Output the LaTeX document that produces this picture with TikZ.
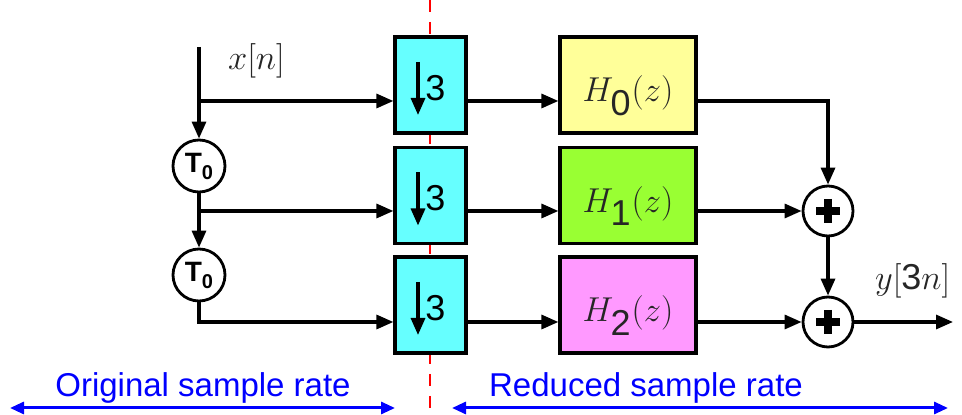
\documentclass[tikz,border=0pt]{standalone}
\usepackage{fontspec}
\setmainfont{Liberation Sans}
\usetikzlibrary{arrows.meta}

\definecolor{decfill}{HTML}{66FFFF}
\definecolor{hzero}{HTML}{FFFF99}
\definecolor{hone}{HTML}{99FF33}
\definecolor{htwo}{HTML}{FF99FF}
\definecolor{rateblue}{HTML}{0000FF}

\tikzset{
    wire/.style={line width=1.6pt},
    sig/.style={wire, -{Triangle[length=8.5pt,width=7pt]}},
    decbox/.style={draw, line width=1.6pt, fill=decfill, minimum width=35.5pt, minimum height=48pt, inner sep=0pt},
    filt/.style={draw, line width=1.6pt, minimum width=68pt, minimum height=48pt, inner sep=0pt},
    delay/.style={draw, circle, line width=1.4pt, fill=white, minimum size=26pt, inner sep=0pt, font=\fontsize{14}{16}\selectfont\bfseries},
    adder/.style={draw, circle, line width=1.4pt, fill=white, minimum size=25pt, inner sep=0pt},
    plusbar/.style={line width=3.6pt},
    mlabel/.style={text=black!85, font=\fontsize{18}{20}\selectfont},
    rate/.style={line width=1.5pt, rateblue, {Triangle[length=7pt,width=6pt]}-{Triangle[length=7pt,width=6pt]}},
    ratetext/.style={text=rateblue, font=\fontsize{16.5}{18}\selectfont, anchor=base},
}

\begin{document}
\begin{tikzpicture}[x=0.5pt, y=-0.5pt]
    \useasboundingbox (0,0) rectangle (962,415);

    % boundary between the two rates
    \draw[red, line width=1.3pt, dash pattern=on 6pt off 5pt] (430,0) -- (430,415);

    % decimators and filters
    \foreach \i/\y/\c in {0/85/hzero, 1/195.5/hone, 2/305/htwo}
    {
        \node[decbox] (d\i) at (430.5,\y) {};
        \draw[sig] (d\i) ++(-12.5,-23) -- ++(0,53);
        \path (d\i) ++(5,3) node[font=\fontsize{18}{20}\selectfont] (n\i) {3};
        \node[filt, fill=\c] (h\i) at (628,\y) {};
        \node[mlabel, anchor=base] (l\i) at (628,\y+17) {$H_{\textrm{\i}}(z)$};
    }

    % input and delay chain
    \coordinate (in) at (199,47);
    \coordinate (b0) at (199,101);
    \coordinate (b1) at (199,211);
    \coordinate (b2) at (199,322);
    \node[delay] (t1) at (199,166) {T\raisebox{-3.5pt}{\fontsize{10}{10}\selectfont 0}};
    \node[delay] (t2) at (199,275) {T\raisebox{-3.5pt}{\fontsize{10}{10}\selectfont 0}};
    \node[mlabel, anchor=base west] (xin) at (221,70) {$x[n]$};

    \draw[wire] (in) -- (b0);
    \draw[sig] (b0) -- (t1);
    \draw[wire] (t1) -- (b1);
    \draw[sig] (b1) -- (t2);
    \draw[sig] (b0) -- (d0.west |- b0);
    \draw[sig] (b1) -- (d1.west |- b1);
    \draw[sig] (t2) |- (d2.west |- b2);

    \foreach \i in {0,1,2}
        \draw[sig] (d\i.east |- b\i) -- (h\i.west |- b\i);

    % adders
    \node[adder] (a1) at (828,211) {};
    \node[adder] (a2) at (828,322) {};
    \draw[plusbar] (a1) +(-12,0) -- +(12,0) (a1) +(0,-12) -- +(0,12);
    \draw[plusbar] (a2) +(-12,0) -- +(12,0) (a2) +(0,-12) -- +(0,12);

    \draw[sig] (h0.east |- b0) -| (a1.north);
    \draw[sig] (h1.east |- b1) -- (a1.west);
    \draw[sig] (a1) -- (a2);
    \draw[sig] (h2.east |- b2) -- (a2.west);
    \coordinate (out) at (953,322);
    \draw[sig] (a2) -- (out);
    \node[mlabel, anchor=base west] (yout) at (868,290) {$y[\textrm{3}n]$};

    % sample rate arrows
    \coordinate (o1) at (10,408);
    \coordinate (o2) at (395,408);
    \coordinate (r1) at (452,408);
    \coordinate (r2) at (948,408);
    \draw[rate] (o1) -- (o2);
    \draw[rate] (r1) -- (r2);
    \node[ratetext] (orig) at (203,397) {Original sample rate};
    \node[ratetext] (red) at (646,397) {Reduced sample rate};
\end{tikzpicture}
\end{document}
